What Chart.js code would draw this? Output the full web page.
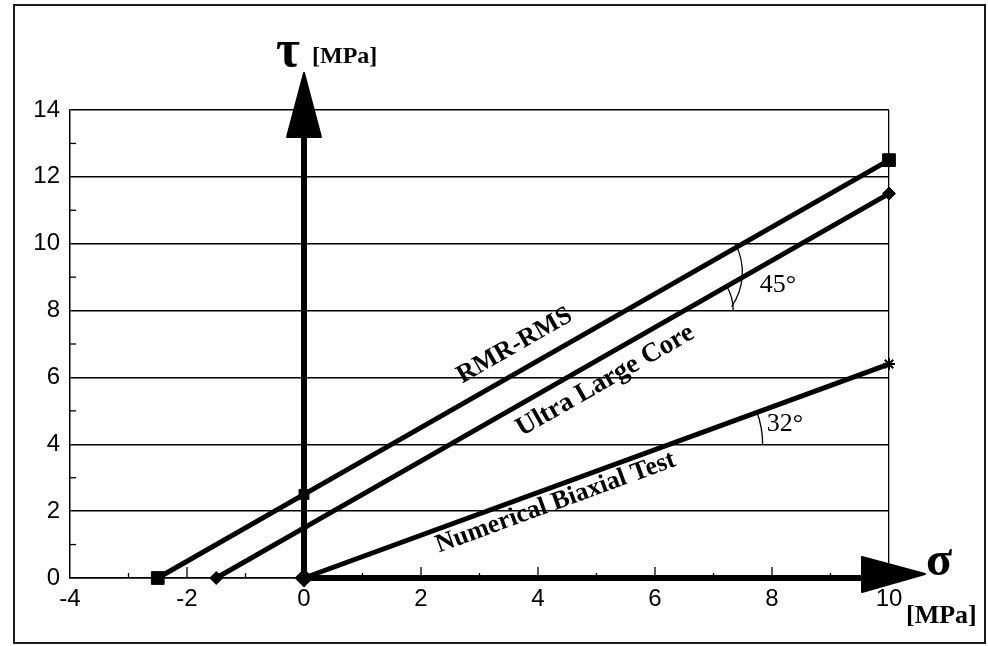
<!DOCTYPE html>
<html>
<head>
<meta charset="utf-8">
<title>Mohr-Coulomb failure envelopes</title>
<script src="https://cdn.jsdelivr.net/npm/chart.js@4/dist/chart.umd.min.js"></script>
<style>
  html, body { margin: 0; padding: 0; background: #fff; }
  #wrap { width: 988px; height: 646px; }
</style>
</head>
<body>
<div id="wrap"><canvas id="c" width="988" height="646"></canvas></div>
<script>
// Normal stress sigma [MPa] and shear stress tau [MPa] for each envelope
const rmrSigma = [-2.5, 0, 10];
const rmrTau   = [0, 2.5, 12.5];
const ulcSigma = [-1.5, 0, 10];
const ulcTau   = [0, 1.5, 11.5];
const nbtSigma = [0, 10];
const nbtTau   = [0, 6.4];

// Axis ranges and tick values
const sigmaTicks = [-4, -2, 0, 2, 4, 6, 8, 10];
const tauTicks   = [0, 2, 4, 6, 8, 10, 12, 14];

const SERIF = '"Liberation Serif", "Times New Roman", serif';
const SANS  = '"Liberation Sans", Arial, sans-serif';

const pts = (xs, ys) => xs.map((x, i) => ({ x, y: ys[i] }));

// Page frame, white background
const framePlugin = {
  id: 'frame',
  beforeDraw(chart) {
    const ctx = chart.ctx;
    ctx.save();
    ctx.fillStyle = '#fff';
    ctx.fillRect(0, 0, chart.width, chart.height);
    ctx.strokeStyle = '#1a1a1a';
    ctx.lineWidth = 2;
    ctx.strokeRect(14, 5, 971, 638);
    ctx.restore();
  }
};

// Bold sigma / tau axes with arrow heads, plus minor ticks
const axesPlugin = {
  id: 'axesArrows',
  beforeDatasetsDraw(chart) {
    const { ctx, chartArea: a, scales: { x, y } } = chart;
    const x0 = x.getPixelForValue(0);
    const y0 = y.getPixelForValue(0);
    ctx.save();
    ctx.strokeStyle = '#000';
    ctx.lineWidth = 1.3;
    // minor ticks on the tau axis (odd values)
    for (let v = 1; v < 14; v += 2) {
      const py = y.getPixelForValue(v);
      ctx.beginPath(); ctx.moveTo(a.left, py); ctx.lineTo(a.left + 6, py); ctx.stroke();
    }
    // ticks on the sigma axis
    for (let v = -3; v < 10; v++) {
      if (v === 0) continue;
      const px = x.getPixelForValue(v);
      const len = (v % 2 === 0) ? 11 : 5;
      ctx.beginPath(); ctx.moveTo(px, a.bottom); ctx.lineTo(px, a.bottom - len); ctx.stroke();
    }
    ctx.fillStyle = '#000';
    // tau axis shaft + head
    const vBase = a.top + 27, vTip = a.top - 37;
    ctx.fillRect(x0 - 3, vBase, 6, y0 - vBase + 2);
    ctx.beginPath();
    ctx.moveTo(x0, vTip);
    ctx.lineTo(x0 + 17, vBase);
    ctx.lineTo(x0 - 17, vBase);
    ctx.closePath();
    ctx.lineJoin = 'round';
    ctx.lineWidth = 2;
    ctx.fill(); ctx.stroke();
    // sigma axis shaft + head
    const hBase = a.right - 27, hTip = a.right + 36;
    ctx.fillRect(x0, y0 - 3, hBase - x0 + 2, 6);
    ctx.beginPath();
    ctx.moveTo(hTip, y0 - 4);
    ctx.lineTo(hBase, y0 - 21);
    ctx.lineTo(hBase, y0 + 14);
    ctx.closePath();
    ctx.fill(); ctx.stroke();
    ctx.restore();
  }
};

// Envelope names, friction angles and axis symbols
const notesPlugin = {
  id: 'notes',
  afterDraw(chart) {
    const { ctx, scales: { x, y } } = chart;
    const slopeAngle = (xs, ys) => {
      const n = xs.length - 1;
      const dx = x.getPixelForValue(xs[n]) - x.getPixelForValue(xs[n - 1]);
      const dy = y.getPixelForValue(ys[n]) - y.getPixelForValue(ys[n - 1]);
      return Math.atan2(dy, dx);
    };
    const rot = (text, sx, ty, ang, font) => {
      ctx.save();
      ctx.translate(x.getPixelForValue(sx), y.getPixelForValue(ty));
      ctx.rotate(ang);
      ctx.font = font;
      ctx.textAlign = 'center';
      ctx.textBaseline = 'middle';
      ctx.fillStyle = '#000';
      ctx.fillText(text, 0, 0);
      ctx.restore();
    };
    const aR = slopeAngle(rmrSigma, rmrTau);
    const aU = slopeAngle(ulcSigma, ulcTau);
    const aN = slopeAngle(nbtSigma, nbtTau);
    rot('RMR-RMS', 3.6, 6.95, aR, 'bold 26px ' + SERIF);
    rot('Ultra Large Core', 5.15, 5.9, aU, 'bold 27px ' + SERIF);
    rot('Numerical Biaxial Test', 4.3, 2.25, aN, 'bold 26px ' + SERIF);

    ctx.save();
    ctx.strokeStyle = '#000';
    ctx.lineWidth = 1.3;
    // 45 degree arcs
    let cx = x.getPixelForValue(6.5), cy = y.getPixelForValue(8);
    ctx.beginPath(); ctx.arc(cx, cy, 49, aU, 0); ctx.stroke();
    cx = x.getPixelForValue(6.45); cy = y.getPixelForValue(9.15);
    ctx.beginPath(); ctx.arc(cx, cy, 61, -0.48, 0.6); ctx.stroke();
    // 32 degree arc
    cx = x.getPixelForValue(4 / (nbtTau[1] / nbtSigma[1])); cy = y.getPixelForValue(4);
    ctx.beginPath(); ctx.arc(cx, cy, 93, aN, 0); ctx.stroke();

    ctx.fillStyle = '#000';
    ctx.textAlign = 'center';
    ctx.textBaseline = 'middle';
    ctx.font = '26px ' + SERIF;
    ctx.fillText('45°', x.getPixelForValue(8.1), y.getPixelForValue(8.76));
    ctx.fillText('32°', x.getPixelForValue(8.22), y.getPixelForValue(4.6));

    // axis symbols
    ctx.textAlign = 'left';
    ctx.textBaseline = 'alphabetic';
    ctx.font = 'bold 52px ' + SERIF;
    ctx.fillText('τ', 276, 66);
    ctx.font = 'bold 24px ' + SERIF;
    ctx.fillText('[MPa]', 312, 63);
    ctx.font = 'bold 48px ' + SERIF;
    ctx.fillText('σ', 926, 575);
    ctx.font = 'bold 26px ' + SERIF;
    ctx.fillText('[MPa]', 906, 623);
    ctx.restore();
  }
};

const lineStyle = {
  borderColor: '#000',
  backgroundColor: '#000',
  borderWidth: 5,
  pointBorderColor: '#000',
  pointBackgroundColor: '#000',
  pointBorderWidth: 1,
  tension: 0,
  fill: false,
  clip: false
};

new Chart(document.getElementById('c'), {
  type: 'line',
  data: {
    datasets: [
      Object.assign({}, lineStyle, {
        label: 'RMR-RMS',
        data: pts(rmrSigma, rmrTau),
        pointStyle: 'rect',
        pointRadius: [9, 7, 9]
      }),
      Object.assign({}, lineStyle, {
        label: 'Ultra Large Core',
        data: pts(ulcSigma, ulcTau),
        pointStyle: 'rectRot',
        pointRadius: [6.5, 4, 6.5]
      }),
      Object.assign({}, lineStyle, {
        label: 'Numerical Biaxial Test',
        data: pts(nbtSigma, nbtTau),
        pointStyle: ['rectRot', 'star'],
        pointRadius: [8, 6],
        pointBorderWidth: 2
      })
    ]
  },
  options: {
    responsive: false,
    animation: false,
    devicePixelRatio: 1,
    layout: { padding: { left: 0, right: 99, top: 110, bottom: 0 } },
    plugins: { legend: { display: false }, tooltip: { enabled: false } },
    elements: { line: { borderJoinStyle: 'round', borderCapStyle: 'butt' } },
    scales: {
      x: {
        type: 'linear',
        min: -4, max: 10,
        afterBuildTicks: s => { s.ticks = sigmaTicks.map(v => ({ value: v })); },
        afterFit: s => { s.height = 68; },
        border: { display: true, color: '#000', width: 1.5 },
        grid: {
          drawTicks: false,
          color: c => (c.tick && c.tick.value === 10) ? '#000' : 'rgba(0,0,0,0)',
          lineWidth: 1.3
        },
        ticks: {
          color: '#000',
          padding: 7,
          font: { family: SANS, size: 24 },
          maxRotation: 0,
          autoSkip: false
        }
      },
      y: {
        type: 'linear',
        min: 0, max: 14,
        afterBuildTicks: s => { s.ticks = tauTicks.map(v => ({ value: v })); },
        afterFit: s => { s.width = 70; },
        border: { display: true, color: '#000', width: 1.5 },
        grid: { drawTicks: false, color: '#000', lineWidth: 1.5 },
        ticks: {
          color: '#000',
          padding: 10,
          font: { family: SANS, size: 24 },
          autoSkip: false
        }
      }
    }
  },
  plugins: [framePlugin, axesPlugin, notesPlugin]
});
</script>
</body>
</html>
